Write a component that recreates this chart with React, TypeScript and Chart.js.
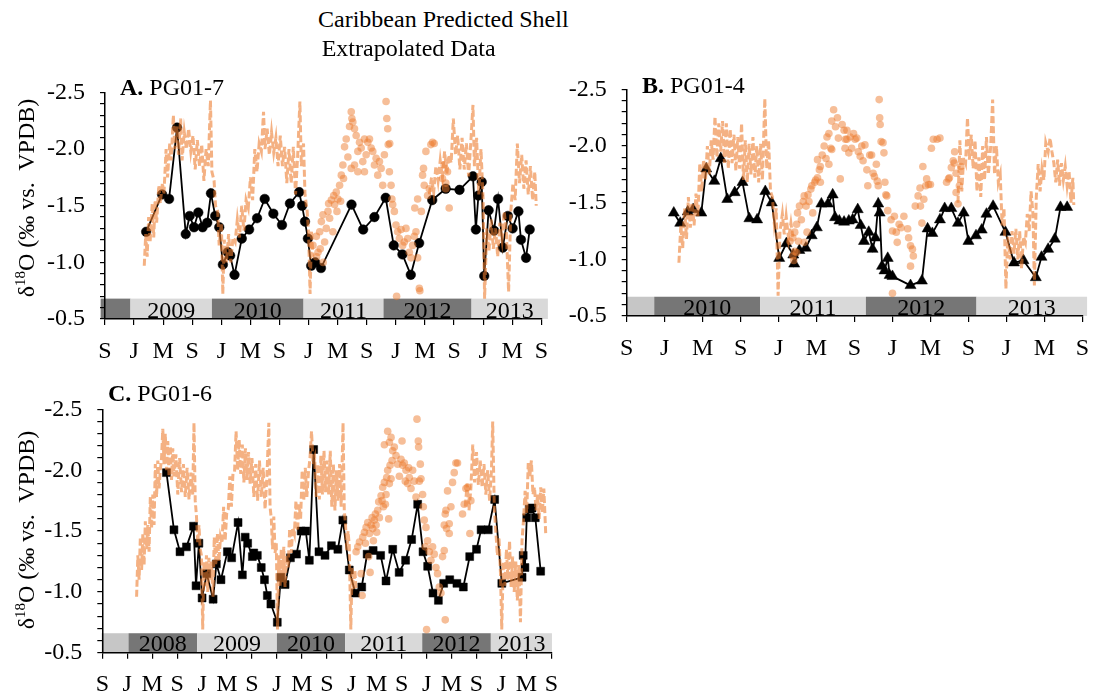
import React, { useEffect, useRef } from 'react';
import { Chart, registerables } from 'chart.js';

Chart.register(...registerables);

type P = [number, number];
const FONT = "'Liberation Serif', 'Times New Roman', serif";

// ---------- tick labels (every 4 months) ----------
const xLabelsA = ['S', 'J', 'M', 'S', 'J', 'M', 'S', 'J', 'M', 'S', 'J', 'M', 'S', 'J', 'M', 'S'];
const xLabelsB = ['S', 'J', 'M', 'S', 'J', 'M', 'S', 'J', 'M', 'S', 'J', 'M', 'S'];
const xLabelsC = ['S', 'J', 'M', 'S', 'J', 'M', 'S', 'J', 'M', 'S', 'J', 'M', 'S', 'J', 'M', 'S', 'J', 'M', 'S'];

// ---------- year bands (months from first S) ----------
const bandEdgesA = [-0.6, 3.5, 14.7, 27.3, 38.3, 50.4, 60.9];
const bandLabelsA = ['', '2009', '2010', '2011', '2012', '2013'];
const bandShadesA = ['dark', 'light', 'dark', 'light', 'dark', 'light'];
const bandEdgesB = [0, 2.9, 14.05, 25.2, 36.85, 48.5];
const bandLabelsB = ['', '2010', '2011', '2012', '2013'];
const bandShadesB = ['mid', 'dark', 'light', 'dark', 'light'];
const bandEdgesC = [-0.1, 4.2, 15.2, 28.0, 38.95, 51.3, 62.3, 72.1];
const bandLabelsC = ['', '2008', '2009', '2010', '2011', '2012', '2013'];
const bandShadesC = ['mid', 'dark', 'light', 'dark', 'light', 'dark', 'light'];

// ---------- Panel A: PG01-7 ----------
const shellA: P[] = [
  [5.66, -1.27], [7.85, -1.6], [8.81, -1.56], [9.91, -2.19], [11.1, -1.25], [11.64, -1.41], [12.24, -1.31],
  [12.83, -1.44], [13.42, -1.31], [14.06, -1.35], [14.57, -1.61], [15.16, -1.41], [15.71, -1.31], [16.21, -0.98],
  [16.89, -1.09], [17.21, -1.06], [17.81, -0.89], [18.81, -1.21], [19.82, -1.29], [20.91, -1.39], [21.96, -1.56],
  [23.15, -1.43], [24.34, -1.33], [25.43, -1.52], [26.7, -1.62], [27.1, -1.5], [27.5, -1.36], [27.9, -1.21],
  [28.35, -0.97], [28.9, -1.0], [29.7, -0.95], [33.9, -1.51], [35.5, -1.29], [37.05, -1.4], [38.6, -1.57],
  [39.7, -1.15], [40.9, -1.07], [42.05, -0.89], [43.2, -1.17], [45.0, -1.55], [46.85, -1.65], [48.75, -1.64],
  [50.6, -1.76], [51.0, -1.29], [51.35, -1.59], [51.8, -1.71], [52.15, -0.88], [52.75, -1.46], [53.5, -1.28],
  [54.05, -1.56], [54.7, -1.13], [55.4, -1.41], [56.05, -1.3], [56.85, -1.45], [57.2, -1.2], [57.9, -1.04],
  [58.4, -1.29],
];
const predA1: P[] = [
  [5.4, -0.97], [5.6, -1.25], [5.8, -1.05], [6.0, -1.4], [6.2, -1.18], [6.5, -1.52], [6.7, -1.22], [6.9, -1.55],
  [7.1, -1.35], [7.4, -1.68], [7.6, -1.52], [7.9, -1.7], [8.1, -1.6], [8.4, -2.0], [8.6, -1.75], [8.9, -2.05],
  [9.1, -1.9], [9.4, -2.3], [9.6, -2.0], [9.9, -2.2], [10.1, -1.95], [10.4, -2.27], [10.6, -1.9], [10.9, -2.15],
  [11.2, -2.0], [11.5, -2.18], [11.8, -1.98], [12.1, -2.12], [12.4, -1.82], [12.7, -2.08], [13.0, -1.85],
  [13.3, -2.04], [13.6, -1.72], [13.9, -2.0], [14.2, -1.85], [14.5, -2.43], [14.7, -1.8], [15.0, -1.72],
  [15.2, -1.5], [15.5, -1.45], [15.7, -1.15], [16.0, -1.35], [16.2, -0.72], [16.4, -1.2], [16.7, -1.0],
  [17.0, -1.25], [17.3, -1.0], [17.6, -1.22], [17.9, -1.18], [18.2, -1.38], [18.5, -1.22], [18.8, -1.5],
  [19.1, -1.28], [19.4, -1.55], [19.7, -1.48], [20.0, -1.75], [20.3, -1.55], [20.6, -2.0], [20.9, -1.8],
  [21.2, -2.05], [21.5, -1.98], [21.8, -2.33], [22.0, -2.0], [22.3, -2.18], [22.6, -1.95], [22.9, -2.15],
  [23.2, -1.97], [23.5, -2.1], [23.8, -1.85], [24.1, -2.12], [24.4, -1.85], [24.7, -2.02], [25.0, -1.7],
  [25.3, -2.0], [25.6, -1.7], [25.9, -2.02], [26.2, -1.6], [26.5, -1.95], [26.8, -2.42], [27.0, -1.85],
  [27.3, -2.05], [27.5, -1.6], [27.8, -1.45], [28.0, -1.25], [28.2, -0.72], [28.4, -1.28], [28.6, -1.05],
];
const predA2: P[] = [
  [44.6, -1.6], [44.9, -1.75], [45.2, -1.62], [45.5, -1.85], [45.8, -1.72], [46.1, -1.9], [46.4, -1.75],
  [46.7, -1.98], [47.0, -1.78], [47.3, -1.95], [47.6, -1.88], [47.9, -2.27], [48.2, -1.95], [48.5, -2.12],
  [48.8, -1.82], [49.1, -2.1], [49.4, -1.82], [49.7, -2.05], [50.0, -1.76], [50.3, -2.06], [50.6, -2.39],
  [50.8, -1.85], [51.1, -2.1], [51.4, -1.6], [51.7, -2.0], [52.0, -1.55], [52.2, -0.68], [52.5, -1.3],
  [52.8, -1.1], [53.1, -1.38], [53.4, -1.12], [53.7, -1.3], [54.0, -1.05], [54.3, -1.35], [54.6, -1.2],
  [54.9, -1.45], [55.2, -1.25], [55.5, -0.74], [55.8, -1.45], [56.1, -1.7], [56.4, -1.55], [56.7, -2.05],
  [57.0, -1.7], [57.3, -1.95], [57.6, -1.65], [57.9, -1.9], [58.2, -1.6], [58.5, -1.85], [58.8, -1.55],
  [59.1, -1.8], [59.3, -1.5],
];
const extrapA: P[] = [
  [28.6, -1.15], [29.06, -1.23], [29.29, -1.09], [29.52, -1.27], [29.75, -1.36], [29.97, -1.42], [30.2, -1.18],
  [30.43, -1.3], [30.66, -1.45], [30.75, -1.52], [30.89, -1.39], [31.12, -1.55], [31.34, -1.27], [31.45, -1.59],
  [31.57, -1.51], [31.8, -1.62], [31.9, -1.45], [32.03, -1.56], [32.26, -1.68], [32.4, -1.54], [32.71, -1.86],
  [32.8, -1.74], [32.5, -1.77], [32.94, -2.02], [33.17, -2.09], [33.4, -1.93], [33.63, -2.2], [33.86, -2.33],
  [33.95, -2.27], [34.08, -2.24], [34.31, -2.18], [34.54, -2.12], [34.77, -1.98], [35.0, -2.06], [35.23, -2.01],
  [35.45, -1.89], [35.68, -2.09], [35.91, -1.95], [36.14, -2.06], [36.37, -2.09], [36.6, -2.01], [36.82, -1.98],
  [37.05, -1.86], [37.28, -1.92], [37.51, -1.77], [37.74, -1.89], [37.97, -1.83], [38.19, -1.68], [38.42, -1.95],
  [38.65, -2.42], [38.75, -2.27], [38.88, -2.18], [38.95, -2.04], [39.15, -2.05], [39.11, -1.8], [39.34, -1.68],
  [39.45, -1.56], [34.77, -1.8], [35.68, -1.8], [34.31, -1.86], [33.86, -1.83], [39.56, -1.51], [39.79, -1.45],
  [40.02, -1.33], [40.25, -1.27], [40.48, -1.21], [40.71, -1.29], [40.93, -1.15], [41.16, -1.18], [41.39, -1.3],
  [41.62, -1.21], [41.85, -1.09], [42.08, -1.04], [42.3, -1.15], [42.53, -1.23], [42.76, -1.27], [42.99, -1.04],
  [40.1, -0.7], [43.22, -0.77], [43.3, -0.75], [42.6, -1.48], [42.99, -1.56], [43.5, -1.45], [43.67, -1.77],
  [43.8, -1.83], [43.9, -1.68], [44.13, -1.98], [44.36, -1.59], [44.59, -1.65], [44.81, -2.04], [45.04, -2.06],
  [45.27, -2.05], [46.41, -1.74], [46.64, -1.86], [46.87, -1.7], [47.1, -1.8], [47.33, -1.48], [46.87, -1.65],
  [29.1, -1.05], [29.6, -1.12], [30.0, -1.0],
];

// ---------- Panel B: PG01-4 ----------
const shellB: P[] = [
  [4.96, -1.41], [5.64, -1.32], [6.43, -1.42], [7.0, -1.44], [7.86, -1.41], [8.38, -1.8], [9.23, -1.69],
  [9.91, -1.89], [10.6, -1.53], [11.38, -1.59], [12.2, -1.68], [12.92, -1.36], [13.74, -1.35], [14.6, -1.6],
  [15.28, -1.5], [16.07, -1.01], [16.82, -1.14], [17.55, -1.04], [17.65, -0.96], [18.19, -1.08], [18.87, -1.1],
  [19.49, -1.21], [20.03, -1.28], [20.51, -1.49], [21.2, -1.49], [21.7, -1.57], [21.95, -1.37], [22.4, -1.34],
  [22.9, -1.33], [23.4, -1.34], [23.8, -1.35], [24.34, -1.44], [24.65, -1.3], [25.0, -1.16], [25.5, -1.24],
  [25.9, -1.09], [26.2, -1.19], [26.5, -1.49], [26.65, -1.41], [26.9, -0.94], [27.16, -0.9], [27.5, -1.01],
  [27.7, -0.86], [28.0, -0.85], [29.9, -0.77], [31.1, -0.81], [31.7, -1.27], [32.2, -1.23], [33.0, -1.35],
  [33.5, -1.45], [34.2, -1.45], [34.9, -1.32], [35.5, -1.41], [36.0, -1.16], [36.8, -1.21], [37.4, -1.26],
  [37.9, -1.4], [38.6, -1.47], [39.9, -1.24], [40.8, -0.97], [41.8, -0.99], [43.1, -0.84], [43.7, -1.02],
  [44.4, -1.09], [45.1, -1.18], [45.7, -1.46], [46.4, -1.46],
];
const predB1: P[] = [
  [5.5, -0.97], [5.7, -1.3], [5.9, -1.1], [6.1, -1.45], [6.3, -1.18], [6.5, -1.55], [6.7, -1.28], [6.9, -1.5],
  [7.1, -1.3], [7.3, -1.58], [7.5, -1.38], [7.7, -1.85], [7.9, -1.6], [8.1, -1.88], [8.3, -1.7], [8.5, -2.0],
  [8.7, -1.75], [8.9, -2.05], [9.1, -1.88], [9.3, -2.26], [9.5, -1.9], [9.7, -2.2], [9.9, -1.95], [10.1, -2.22],
  [10.3, -1.85], [10.5, -2.2], [10.7, -1.8], [10.9, -2.15], [11.1, -1.85], [11.3, -2.1], [11.5, -1.78],
  [11.7, -2.08], [11.9, -1.8], [12.1, -2.2], [12.3, -1.7], [12.5, -2.05], [12.7, -1.68], [12.9, -2.02],
  [13.1, -1.75], [13.3, -2.08], [13.5, -1.72], [13.7, -2.0], [13.9, -1.68], [14.1, -2.02], [14.3, -1.7],
  [14.55, -2.42], [14.75, -1.8], [14.95, -2.05], [15.15, -1.6], [15.35, -1.55], [15.55, -1.32], [15.75, -1.45],
  [15.95, -0.68], [16.15, -1.25], [16.4, -1.4], [16.6, -1.22], [16.8, -1.38], [17.05, -1.18], [17.3, -1.32],
  [17.5, -1.2],
];
const predB2: P[] = [
  [34.9, -1.5], [35.1, -2.05], [35.3, -1.6], [35.5, -1.9], [35.7, -1.85], [35.9, -2.25], [36.1, -1.88],
  [36.3, -2.1], [36.5, -1.8], [36.7, -2.05], [36.9, -1.6], [37.1, -1.9], [37.3, -1.55], [37.5, -2.0],
  [37.7, -1.7], [37.9, -2.08], [38.1, -1.75], [38.35, -2.0], [38.55, -2.41], [38.75, -1.75], [38.95, -2.0],
  [39.15, -1.68], [39.35, -1.75], [39.55, -1.3], [39.75, -1.45], [39.95, -0.74], [40.15, -1.2], [40.4, -1.0],
  [40.6, -1.25], [40.8, -1.05], [41.0, -1.27], [41.2, -1.0], [41.4, -1.25], [41.6, -0.92], [41.8, -1.2],
  [42.0, -1.15], [42.2, -1.4], [42.4, -1.25], [42.6, -1.6], [42.8, -1.4], [42.95, -0.77], [43.15, -1.55],
  [43.35, -1.84], [43.55, -1.6], [43.75, -1.8], [43.95, -1.7], [44.15, -2.03], [44.4, -1.95], [44.6, -2.07],
  [44.8, -1.95], [45.0, -1.85], [45.2, -1.68], [45.4, -1.88], [45.6, -1.65], [45.8, -1.85], [46.0, -1.7],
  [46.2, -1.82], [46.4, -1.65], [46.6, -1.78], [46.8, -1.5], [47.0, -1.72], [47.1, -1.48],
];
const extrapB: P[] = [
  [17.2, -1.16], [17.5, -1.19], [17.7, -1.24], [17.9, -1.31], [18.0, -1.41], [18.2, -1.47], [18.4, -1.35],
  [18.6, -1.51], [18.7, -1.56], [18.9, -1.47], [19.1, -1.57], [19.2, -1.51], [19.4, -1.62], [19.6, -1.41],
  [19.8, -1.68], [19.9, -1.7], [20.1, -1.88], [20.3, -1.79], [20.4, -1.82], [20.6, -1.92], [20.8, -2.0],
  [21.0, -1.89], [21.1, -2.08], [21.3, -2.11], [21.5, -1.98], [21.6, -2.22], [21.8, -2.32], [22.0, -2.17],
  [22.2, -2.25], [22.3, -2.07], [22.5, -1.71], [22.7, -2.19], [22.9, -2.14], [23.0, -1.98], [23.2, -2.06],
  [23.4, -1.94], [20.4, -1.68], [20.1, -1.72], [19.5, -1.65], [19.0, -1.24], [18.1, -1.16], [18.7, -1.15],
  [17.9, -1.06], [17.5, -1.03], [21.3, -1.84], [21.6, -1.97], [17.6, -0.99], [17.7, -1.07], [23.04, -2.06],
  [23.2, -2.14], [23.55, -2.08], [23.7, -1.98], [23.9, -2.11], [24.07, -2.06], [24.24, -2.07], [24.4, -1.95],
  [24.6, -1.91], [24.76, -2.0], [24.9, -1.87], [25.1, -2.01], [25.3, -1.79], [25.4, -1.65], [25.6, -1.92],
  [25.8, -1.92], [25.96, -1.76], [26.1, -1.73], [26.3, -1.84], [26.4, -1.69], [26.5, -1.65], [26.6, -2.41],
  [26.65, -2.25], [26.7, -2.19], [26.8, -2.04], [27.0, -2.03], [27.1, -1.94], [27.2, -1.68], [27.3, -1.57],
  [27.4, -1.56], [27.5, -1.43], [27.85, -1.35], [28.2, -1.38], [28.0, -1.25], [28.4, -1.24], [28.5, -1.15],
  [28.7, -1.31], [28.9, -1.28], [29.2, -1.38], [29.6, -1.27], [29.7, -1.19], [29.9, -1.12], [30.1, -1.09],
  [30.2, -1.03], [29.9, -0.94], [28.0, -0.7], [30.4, -1.47], [30.7, -1.56], [30.9, -1.63], [30.95, -1.47],
  [31.1, -1.32], [31.3, -1.53], [31.5, -1.65], [31.6, -1.71], [31.8, -1.66], [32.0, -1.66], [32.1, -1.98],
  [32.3, -2.06], [32.7, -2.06], [33.0, -2.07], [31.2, -1.82], [33.7, -1.68], [33.9, -1.71], [34.0, -1.72],
  [34.2, -1.81], [34.4, -1.87], [34.55, -1.95], [34.7, -1.76], [34.9, -1.49], [35.05, -1.65], [35.2, -1.82],
  [34.7, -1.59], [34.5, -1.85],
];

// ---------- Panel C: PG01-6 ----------
const shellC: P[] = [
  [10.29, -1.98], [11.49, -1.51], [12.46, -1.33], [13.49, -1.37], [14.63, -1.54], [15.03, -1.05], [15.49, -1.4],
  [16.0, -0.95], [16.74, -1.15], [17.77, -0.94], [18.29, -1.23], [19.03, -1.1], [20.06, -1.33], [20.74, -1.28],
  [21.77, -1.57], [22.46, -1.14], [22.91, -1.45], [23.31, -1.4], [24.06, -1.29], [24.29, -1.32], [24.86, -1.3],
  [25.49, -1.2], [26.0, -1.1], [26.46, -0.97], [27.03, -0.9], [28.06, -0.75], [28.63, -1.12], [29.31, -1.06],
  [30.17, -1.28], [31.14, -1.31], [31.89, -1.5], [32.63, -1.5], [33.2, -1.26], [33.89, -2.17], [34.74, -1.33],
  [35.71, -1.3], [36.74, -1.38], [37.77, -1.35], [38.57, -1.59], [39.6, -1.18], [40.57, -0.99], [41.6, -1.04],
  [42.46, -1.31], [43.43, -1.34], [44.63, -1.3], [45.49, -1.09], [46.57, -1.35], [47.6, -1.16], [48.63, -1.26],
  [49.6, -1.43], [50.57, -1.72], [51.43, -1.33], [52.17, -1.21], [53.03, -0.99], [53.89, -0.93], [54.74, -1.07],
  [55.71, -1.1], [56.86, -1.07], [57.89, -1.04], [58.91, -1.29], [60.0, -1.35], [60.74, -1.51], [61.89, -1.51],
  [62.91, -1.76], [64.06, -1.07], [67.31, -1.12], [67.49, -1.3], [67.77, -1.2], [68.06, -1.61], [68.46, -1.68],
  [68.91, -1.69], [69.43, -1.61], [70.29, -1.17],
];
const predC1: P[] = [
  [5.5, -0.96], [5.7, -1.3], [5.9, -1.1], [6.1, -1.45], [6.3, -1.18], [6.5, -1.48], [6.7, -1.22], [6.9, -1.58],
  [7.1, -1.35], [7.3, -1.55], [7.5, -1.33], [7.7, -1.78], [7.9, -1.52], [8.1, -1.8], [8.3, -1.55], [8.5, -2.05],
  [8.7, -1.78], [8.9, -2.08], [9.1, -1.85], [9.3, -2.0], [9.5, -2.1], [9.7, -2.34], [9.9, -2.05], [10.1, -2.3],
  [10.3, -2.0], [10.5, -2.24], [10.7, -1.95], [10.9, -2.2], [11.1, -1.92], [11.3, -2.18], [11.5, -1.95],
  [11.8, -2.13], [12.1, -1.8], [12.4, -2.1], [12.7, -1.82], [13.0, -2.05], [13.3, -1.78], [13.6, -2.02],
  [13.9, -1.76], [14.2, -1.98], [14.5, -1.8], [14.7, -2.39], [14.9, -1.75], [15.1, -1.62], [15.3, -1.4],
  [15.5, -1.55], [15.7, -1.35], [15.9, -1.3], [16.1, -0.69], [16.3, -1.25], [16.5, -1.05], [16.7, -1.3],
  [16.9, -1.0], [17.1, -1.28], [17.3, -1.1], [17.5, -1.25], [17.75, -0.96], [17.95, -1.45], [18.2, -1.22],
  [18.45, -1.48], [18.7, -1.25], [18.95, -1.45], [19.2, -1.4], [19.45, -1.7], [19.7, -1.42], [19.95, -1.65],
  [20.2, -1.68], [20.45, -1.95], [20.7, -1.7], [20.95, -1.97], [21.2, -1.98], [21.45, -2.32], [21.7, -2.0],
  [21.95, -2.25], [22.2, -1.97], [22.45, -2.21], [22.7, -1.9], [22.95, -2.18], [23.2, -1.92], [23.45, -2.15],
  [23.7, -1.89], [24.0, -2.1], [24.3, -1.78], [24.6, -2.05], [24.9, -1.75], [25.2, -2.08], [25.5, -1.78],
  [25.8, -2.02], [26.1, -1.68], [26.4, -1.95], [26.7, -2.39], [26.9, -1.7], [27.1, -1.6], [27.3, -1.35],
  [27.5, -1.62], [27.7, -1.32], [27.9, -1.4], [28.1, -0.69], [28.3, -1.3], [28.5, -1.05], [28.7, -1.35],
  [28.9, -1.08], [29.1, -1.37], [29.3, -1.04], [29.55, -1.3], [29.8, -1.2], [30.05, -1.52], [30.3, -1.32],
  [30.55, -1.53], [30.8, -1.48], [31.05, -1.75], [31.3, -1.5], [31.55, -1.72], [31.8, -1.6], [32.05, -2.0],
  [32.3, -1.75], [32.55, -2.02], [32.8, -1.78], [33.05, -1.98], [33.3, -2.1], [33.55, -2.32], [33.8, -2.05],
  [34.05, -2.1], [34.3, -1.78], [34.55, -2.05], [34.8, -1.76], [35.05, -2.12], [35.3, -1.8], [35.55, -2.16],
  [35.8, -1.82], [36.05, -2.08], [36.3, -1.8], [36.55, -2.16], [36.8, -1.7], [37.05, -2.05], [37.3, -1.67],
  [37.55, -2.0], [37.8, -1.75], [38.05, -2.05], [38.3, -1.7], [38.6, -2.39], [38.8, -1.67], [39.0, -1.55],
  [39.2, -1.34], [39.4, -1.5], [39.6, -1.38], [39.85, -0.69], [40.05, -1.2], [40.3, -1.02], [40.5, -1.18],
  [40.7, -1.01],
];
const predC2: P[] = [
  [58.2, -1.7], [58.5, -1.89], [58.8, -1.67], [59.1, -1.85], [59.4, -2.21], [59.7, -1.9], [60.0, -2.15],
  [60.3, -1.88], [60.6, -2.08], [60.9, -1.86], [61.2, -2.05], [61.5, -1.8], [61.8, -2.0], [62.1, -1.75],
  [62.4, -2.0], [62.6, -2.4], [62.85, -1.7], [63.1, -1.5], [63.35, -1.3], [63.6, -1.45], [63.85, -1.15],
  [64.05, -0.69], [64.3, -1.25], [64.55, -1.05], [64.8, -1.35], [65.05, -1.1], [65.3, -1.42], [65.55, -1.04],
  [65.8, -1.29], [66.05, -1.0], [66.3, -1.25], [66.55, -0.93], [66.8, -1.22], [67.05, -0.75], [67.3, -1.42],
  [67.55, -1.6], [67.8, -1.83], [68.05, -1.65], [68.3, -2.06], [68.55, -1.95], [68.8, -2.08], [69.05, -1.8],
  [69.3, -1.86], [69.55, -1.67], [69.8, -1.8], [70.05, -1.6], [70.3, -1.86], [70.55, -1.65], [70.8, -1.85],
  [71.1, -1.48],
];
const extrapC: P[] = [
  [40.7, -1.33], [40.96, -1.37], [41.23, -1.41], [41.5, -1.15], [41.66, -0.97], [41.76, -1.45], [42.03, -1.49],
  [42.19, -1.4], [42.3, -1.53], [42.56, -1.57], [42.72, -1.29], [42.83, -1.48], [42.94, -1.16], [43.1, -1.55],
  [43.26, -1.61], [43.36, -1.52], [43.47, -1.42], [43.63, -1.59], [43.79, -1.64], [43.9, -1.55], [44.0, -1.49],
  [44.16, -1.67], [44.32, -1.74], [44.43, -1.61], [44.7, -1.79], [44.86, -1.75], [44.96, -1.86], [45.07, -1.7],
  [45.23, -1.9], [45.39, -1.72], [45.5, -1.8], [45.6, -1.94], [45.76, -2.0], [45.92, -1.6], [46.03, -1.89],
  [46.14, -2.04], [46.3, -1.93], [46.46, -2.08], [46.56, -2.16], [46.83, -2.19], [46.03, -2.23], [45.76, -2.32],
  [45.23, -2.21], [46.3, -2.27], [47.1, -2.12], [47.36, -2.05], [47.63, -1.95], [47.9, -2.09], [48.06, -2.24],
  [48.16, -2.04], [48.43, -2.06], [48.59, -1.91], [48.7, -2.0], [48.96, -1.89], [49.12, -2.02], [49.23, -1.94],
  [49.5, -1.85], [49.76, -2.0], [50.03, -1.91], [50.3, -1.78], [50.46, -2.42], [50.67, -2.24], [50.72, -2.19],
  [50.83, -1.91], [50.99, -2.05], [51.1, -1.93], [51.36, -1.8], [51.47, -1.7], [51.63, -1.59], [51.9, -1.53],
  [51.79, -1.37], [52.16, -1.42], [52.43, -1.33], [52.7, -1.26], [52.96, -1.37], [53.23, -1.31], [53.5, -1.2],
  [53.76, -1.15], [54.03, -1.04], [54.3, -0.99], [54.56, -1.29], [54.83, -1.34], [54.99, -0.77], [52.0, -0.69],
  [55.1, -1.67], [55.36, -1.83], [55.63, -1.56], [55.9, -1.7], [56.16, -1.9], [56.43, -1.98], [56.7, -2.06],
  [56.96, -2.06], [55.2, -1.52], [55.63, -1.48], [54.99, -1.64], [54.83, -1.55], [57.76, -1.64], [58.03, -1.72],
  [58.3, -1.85], [58.56, -1.86], [58.94, -1.48], [59.1, -1.75],
];

// ---------- rendering ----------
const SHADE: Record<string, string> = { dark: '#767676', light: '#d9d9d9', mid: '#c6c6c6' };

const bandPlugin = {
  id: 'yearBands',
  beforeDraw(chart: any, _args: any, opts: any) {
    const { ctx } = chart;
    const xs = chart.scales.x;
    const ys = chart.scales.y;
    const yb = ys.getPixelForValue(-0.5);
    const yt = ys.getPixelForValue(opts.top);
    ctx.save();
    for (let i = 0; i < opts.labels.length; i++) {
      const x0 = xs.getPixelForValue(opts.edges[i]);
      const x1 = xs.getPixelForValue(opts.edges[i + 1]);
      ctx.fillStyle = SHADE[opts.shades[i]];
      ctx.fillRect(x0, yt, x1 - x0, yb - yt);
    }
    ctx.fillStyle = '#000';
    ctx.font = `24px ${FONT}`;
    ctx.textAlign = 'center';
    ctx.textBaseline = 'alphabetic';
    for (let i = 0; i < opts.labels.length; i++) {
      if (!opts.labels[i]) continue;
      const x0 = xs.getPixelForValue(opts.edges[i]);
      const x1 = xs.getPixelForValue(opts.edges[i + 1]);
      ctx.fillText(opts.labels[i], (x0 + x1) / 2, yb - 1.5);
    }
    ctx.restore();
  },
};

interface Panel {
  left: number; top: number; w: number; h: number;
  yWidth: number; padTop: number; padRight: number; xHeight: number;
  xMax: number; xLabels: string[];
  shell: P[]; preds: P[][]; extrap: P[];
  marker: string; radius: number;
  bandEdges: number[]; bandLabels: string[]; bandShades: string[]; bandTop: number;
}

const toXY = (a: P[]) => a.map(([x, y]) => ({ x, y }));

function makeConfig(p: Panel): any {
  const tickFont = { family: FONT, size: 24 };
  return {
    type: 'line',
    data: {
      datasets: [
        ...p.preds.map((seg) => ({
          type: 'line',
          data: toXY(seg),
          borderColor: 'rgba(237,125,49,0.6)',
          borderWidth: 3,
          borderDash: [7, 3],
          borderCapStyle: 'butt',
          pointRadius: 0,
          tension: 0,
          fill: false,
          order: 1,
        })),
        {
          type: 'scatter',
          data: toXY(p.extrap),
          backgroundColor: 'rgba(237,125,49,0.5)',
          borderWidth: 0,
          pointRadius: 3.8,
          order: 2,
        },
        {
          type: 'line',
          data: toXY(p.shell),
          borderColor: '#000',
          borderWidth: 1.8,
          pointStyle: p.marker,
          pointRadius: p.radius,
          pointBackgroundColor: '#000',
          pointBorderColor: '#000',
          pointBorderWidth: 0.5,
          tension: 0,
          fill: false,
          order: 3,
        },
      ],
    },
    options: {
      responsive: false,
      animation: false,
      events: [],
      layout: { padding: { left: 0, top: p.padTop, right: p.padRight, bottom: 0 }, autoPadding: false },
      plugins: {
        legend: { display: false },
        tooltip: { enabled: false },
        yearBands: { edges: p.bandEdges, labels: p.bandLabels, shades: p.bandShades, top: p.bandTop },
      },
      scales: {
        x: {
          type: 'linear',
          min: 0,
          max: p.xMax,
          afterFit: (s: any) => { s.height = p.xHeight; },
          border: { display: true, color: '#000', width: 1.5 },
          grid: { display: true, drawOnChartArea: false, drawTicks: true, tickLength: 6, color: '#000', lineWidth: 1.2 },
          ticks: {
            stepSize: 4,
            autoSkip: false,
            maxRotation: 0,
            padding: 12,
            color: '#000',
            font: tickFont,
            callback: (_v: any, i: number) => p.xLabels[i] ?? '',
          },
        },
        y: {
          type: 'linear',
          min: -2.5,
          max: -0.5,
          reverse: true,
          afterFit: (s: any) => { s.width = p.yWidth; },
          border: { display: true, color: '#000', width: 1.5 },
          grid: { display: true, drawOnChartArea: false, drawTicks: true, tickLength: 5, color: '#000', lineWidth: 1.2 },
          ticks: {
            stepSize: 0.1,
            autoSkip: false,
            padding: 15,
            color: '#000',
            font: tickFont,
            callback: (v: any) => {
              const n = Number(v);
              return Math.round(n * 10) % 5 === 0 ? n.toFixed(1) : '';
            },
          },
        },
      },
    },
    plugins: [bandPlugin],
  };
}

const panels: Panel[] = [
  {
    left: 0, top: 60, w: 560, h: 310, yWidth: 105, padTop: 32.5, padRight: 16, xHeight: 51,
    xMax: 60, xLabels: xLabelsA, shell: shellA, preds: [predA1, predA2], extrap: extrapA,
    marker: 'circle', radius: 4.8,
    bandEdges: bandEdgesA, bandLabels: bandLabelsA, bandShades: bandShadesA, bandTop: -0.68,
  },
  {
    left: 540, top: 60, w: 561, h: 310, yWidth: 86.7, padTop: 28, padRight: 9, xHeight: 54,
    xMax: 48, xLabels: xLabelsB, shell: shellB, preds: [predB1, predB2], extrap: extrapB,
    marker: 'triangle', radius: 6.4,
    bandEdges: bandEdgesB, bandLabels: bandLabelsB, bandShades: bandShadesB, bandTop: -0.67,
  },
  {
    left: 0, top: 380, w: 570, h: 314, yWidth: 102.3, padTop: 28.3, padRight: 17.7, xHeight: 41.3,
    xMax: 72, xLabels: xLabelsC, shell: shellC, preds: [predC1, predC2], extrap: extrapC,
    marker: 'rect', radius: 5.6,
    bandEdges: bandEdgesC, bandLabels: bandLabelsC, bandShades: bandShadesC, bandTop: -0.66,
  },
];

function PanelChart({ p }: { p: Panel }) {
  const ref = useRef<HTMLCanvasElement | null>(null);
  useEffect(() => {
    if (!ref.current) return;
    const chart = new Chart(ref.current, makeConfig(p));
    return () => chart.destroy();
  }, [p]);
  return (
    <canvas
      ref={ref}
      width={p.w}
      height={p.h}
      style={{ position: 'absolute', left: p.left, top: p.top, width: p.w, height: p.h }}
    />
  );
}

const textBase: React.CSSProperties = {
  position: 'absolute',
  fontFamily: FONT,
  fontSize: 24,
  lineHeight: '24px',
  color: '#000',
  whiteSpace: 'pre',
  pointerEvents: 'none',
};

function YTitle({ cx, cy }: { cx: number; cy: number }) {
  return (
    <div
      style={{
        ...textBase,
        left: cx,
        top: cy,
        transform: 'translate(-50%, -50%) rotate(-90deg)',
      }}
    >
      δ<sup style={{ fontSize: 15, verticalAlign: 'super', lineHeight: 0 }}>18</sup>O (‰ vs.  VPDB)
    </div>
  );
}

export default function App() {
  return (
    <div style={{ position: 'absolute', left: 0, top: 0, width: 1101, height: 694, background: '#fff', overflow: 'hidden' }}>
      {panels.map((p, i) => (
        <PanelChart key={i} p={p} />
      ))}
      <div style={{ ...textBase, left: 318, top: 6.6 }}>Caribbean Predicted Shell</div>
      <div style={{ ...textBase, left: 321.7, top: 35.9 }}>Extrapolated Data</div>
      <div style={{ ...textBase, left: 120, top: 75 }}>
        <b>A.</b> PG01-7
      </div>
      <div style={{ ...textBase, left: 642, top: 73.2 }}>
        <b>B.</b> PG01-4
      </div>
      <div style={{ ...textBase, left: 108, top: 381 }}>
        <b>C.</b> PG01-6
      </div>
      <YTitle cx={26} cy={198} />
      <YTitle cx={26} cy={530} />
    </div>
  );
}
